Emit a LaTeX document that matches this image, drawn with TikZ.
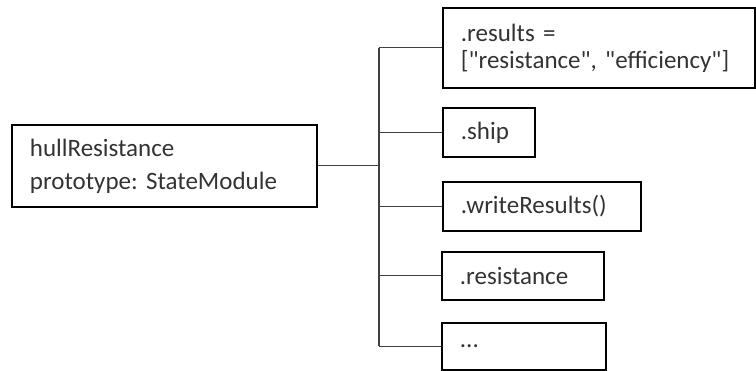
\documentclass[tikz,border=0pt]{standalone}
\usepackage{fontspec}
\setmainfont{Carlito}[Ligatures=TeXOff]
\frenchspacing
\begin{document}
\begin{tikzpicture}[x=1pt,y=-1pt,
  box/.style={draw=black, line width=1.8pt, anchor=north west, inner ysep=0pt,
    inner xsep=18pt, align=left, font=\fontsize{25}{27}\selectfont, text=black!80},
  link/.style={draw=black!75, line width=1.2pt}]
\useasboundingbox (0,0) rectangle (756,371);

% object and its members
\node[box, minimum width=305pt, minimum height=82pt, text width=269pt,
      font=\fontsize{25}{33}\selectfont] (main) at (11,124)
  {hullResistance\\prototype: StateModule};
\node[box, minimum width=312pt, minimum height=80pt, text width=276pt] (results) at (442,7)
  {.results =\\\relax["resistance", "efficiency"]};
\node[box, minimum width=92pt, minimum height=49pt, text width=56pt] (ship) at (442,107) {.ship};
\node[box, minimum width=198pt, minimum height=49pt, text width=162pt] (write) at (442,181) {.writeResults()};
\node[box, minimum width=162pt, minimum height=48pt, text width=126pt] (resist) at (441,251) {.resistance};
\node[box, minimum width=164pt, minimum height=47pt, text width=128pt] (dots) at (441,322) {...};

% tree connectors
\coordinate (trunk) at (379,0);
\draw[link] (main.east) -- (main.east -| trunk);
\draw[link] (results.west -| trunk) -- (dots.west -| trunk);
\foreach \b in {results,ship,write,resist,dots}
  \draw[link] (\b.west) -- (\b.west -| trunk);
\end{tikzpicture}
\end{document}
